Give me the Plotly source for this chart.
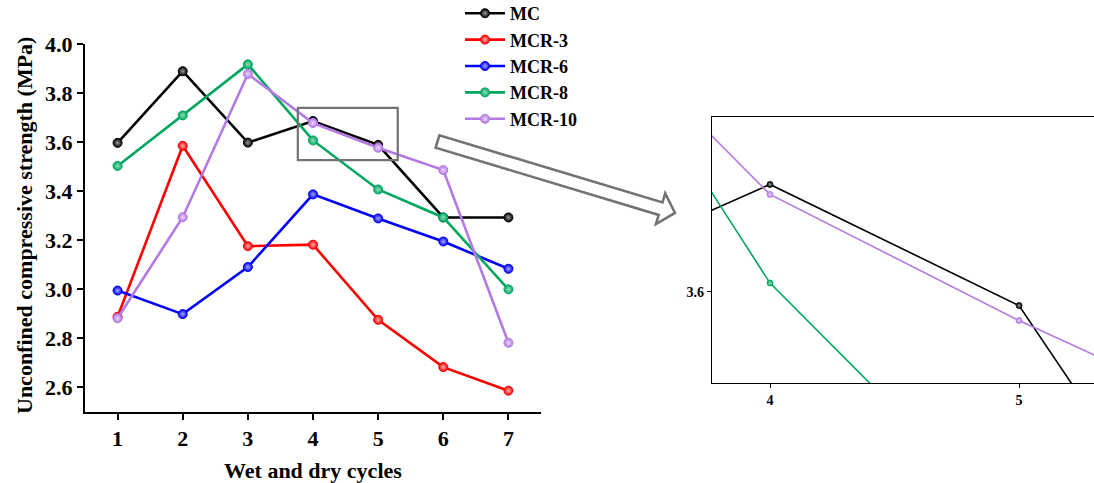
import plotly.graph_objects as go

W, H = 1094, 483

# Wet-dry cycle numbers and unconfined compressive strength (MPa)
cycles = [1, 2, 3, 4, 5, 6, 7]
mc = [3.597, 3.889, 3.598, 3.686, 3.589, 3.293, 3.293]
mcr3 = [2.888, 3.585, 3.176, 3.182, 2.876, 2.683, 2.587]
mcr6 = [2.995, 2.899, 3.091, 3.387, 3.289, 3.195, 3.084]
mcr8 = [3.503, 3.709, 3.917, 3.607, 3.407, 3.293, 3.000]
mcr10 = [2.882, 3.294, 3.878, 3.678, 3.577, 3.486, 2.782]

series_names = ["MC", "MCR-3", "MCR-6", "MCR-8", "MCR-10"]
series_values = [mc, mcr3, mcr6, mcr8, mcr10]
series_colors = ["#000000", "#ff0000", "#0000ff", "#00a65e", "#b479e4"]
highlight = ["#9a9a9a", "#ffb0b0", "#a8a8ff", "#8fe0bb", "#ecd8fb"]

y_ticks = [2.6, 2.8, 3.0, 3.2, 3.4, 3.6, 3.8, 4.0]

# zoomed window shown in the inset (also drawn as a box on the main chart)
zoom_x = [3.767, 5.301]
zoom_y = [3.527, 3.740]

FONT = "Liberation Serif"


def px_x(p):
    return p / W


def px_y(p):
    return 1 - p / H


fig = go.Figure()

for name, vals, col, hi in zip(series_names, series_values, series_colors, highlight):
    fig.add_trace(go.Scatter(
        x=cycles, y=vals, name=name, mode="lines+markers",
        line=dict(color=col, width=2.6),
        marker=dict(size=9, color=col, symbol="circle",
                    line=dict(color=col, width=1),
                    gradient=dict(type="radial", color=hi)),
        xaxis="x", yaxis="y",
    ))

for name, vals, col, hi in zip(series_names, series_values, series_colors, highlight):
    fig.add_trace(go.Scatter(
        x=cycles, y=vals, name=name, mode="lines+markers", showlegend=False,
        line=dict(color=col, width=1.6),
        marker=dict(size=6, color=col, line=dict(color=col, width=0.8),
                    gradient=dict(type="radial", color=hi)),
        xaxis="x2", yaxis="y2",
    ))

big_font = dict(family=FONT, size=22, color="black", weight="bold")
small_font = dict(family=FONT, size=14, color="black", weight="bold")

fig.update_layout(
    width=W, height=H,
    margin=dict(l=0, r=0, t=0, b=0, autoexpand=False),
    paper_bgcolor="white", plot_bgcolor="white",
    showlegend=True,
    legend=dict(
        x=px_x(460), y=px_y(-5), xanchor="left", yanchor="top",
        font=dict(family=FONT, size=18, color="black", weight="bold"),
        bgcolor="rgba(0,0,0,0)", itemwidth=40, tracegroupgap=0,
    ),
    xaxis=dict(
        domain=[px_x(85), px_x(541)], range=[0.5, 7.5],
        tickmode="array", tickvals=cycles, ticktext=[str(c) for c in cycles],
        showline=True, linecolor="black", linewidth=2,
        ticks="outside", ticklen=6, tickwidth=2, tickcolor="black",
        tickfont=big_font,
        showgrid=False, zeroline=False, anchor="y",
    ),
    yaxis=dict(
        domain=[px_y(412), px_y(44)], range=[2.5, 4.0],
        tickmode="array", tickvals=y_ticks,
        ticktext=[f"{v:.1f}" for v in y_ticks],
        showline=True, linecolor="black", linewidth=2,
        ticks="outside", ticklen=6, tickwidth=2, tickcolor="black",
        tickfont=big_font,
        showgrid=False, zeroline=False, anchor="x",
    ),
    xaxis2=dict(
        domain=[px_x(712), 1.0], range=zoom_x,
        tickmode="array", tickvals=[4, 5], ticktext=["4", "5"],
        showline=True, mirror=True, linecolor="black", linewidth=1.2,
        ticks="outside", ticklen=4, tickwidth=1, tickcolor="black",
        tickfont=small_font,
        showgrid=False, zeroline=False, anchor="y2",
    ),
    yaxis2=dict(
        domain=[px_y(383), px_y(117)], range=zoom_y,
        tickmode="array", tickvals=[3.6], ticktext=["3.6"],
        showline=True, linecolor="black", linewidth=1.2,
        ticks="outside", ticklen=4, tickwidth=1, tickcolor="black",
        tickfont=small_font,
        showgrid=False, zeroline=False, anchor="x2",
    ),
)

# box marking the zoomed window on the main chart
fig.add_shape(type="rect", xref="x", yref="y",
              x0=zoom_x[0], x1=zoom_x[1], y0=zoom_y[0], y1=zoom_y[1],
              line=dict(color="#737373", width=2.2), fillcolor="rgba(0,0,0,0)")

# hollow arrow pointing to the inset
arrow_px = [(435.6, 147.7), (439.4, 135.3), (662.5, 202.5), (665.2, 193.4),
            (675.0, 213.0), (656.0, 224.0), (658.7, 214.9)]
path = "M " + " L ".join(f"{px_x(a):.5f},{px_y(b):.5f}" for a, b in arrow_px) + " Z"
fig.add_shape(type="path", xref="paper", yref="paper", path=path,
              line=dict(color="#737373", width=2.6), fillcolor="white")

# axis titles
fig.add_annotation(x=px_x(313), y=px_y(470), xref="paper", yref="paper",
                   text="Wet and dry cycles", showarrow=False,
                   font=big_font, xanchor="center", yanchor="middle")
fig.add_annotation(x=px_x(25), y=px_y(226), xref="paper", yref="paper",
                   text="Unconfined compressive strength (MPa)",
                   showarrow=False, textangle=-90,
                   font=big_font, xanchor="center", yanchor="middle")

fig.write_html("out.html")
